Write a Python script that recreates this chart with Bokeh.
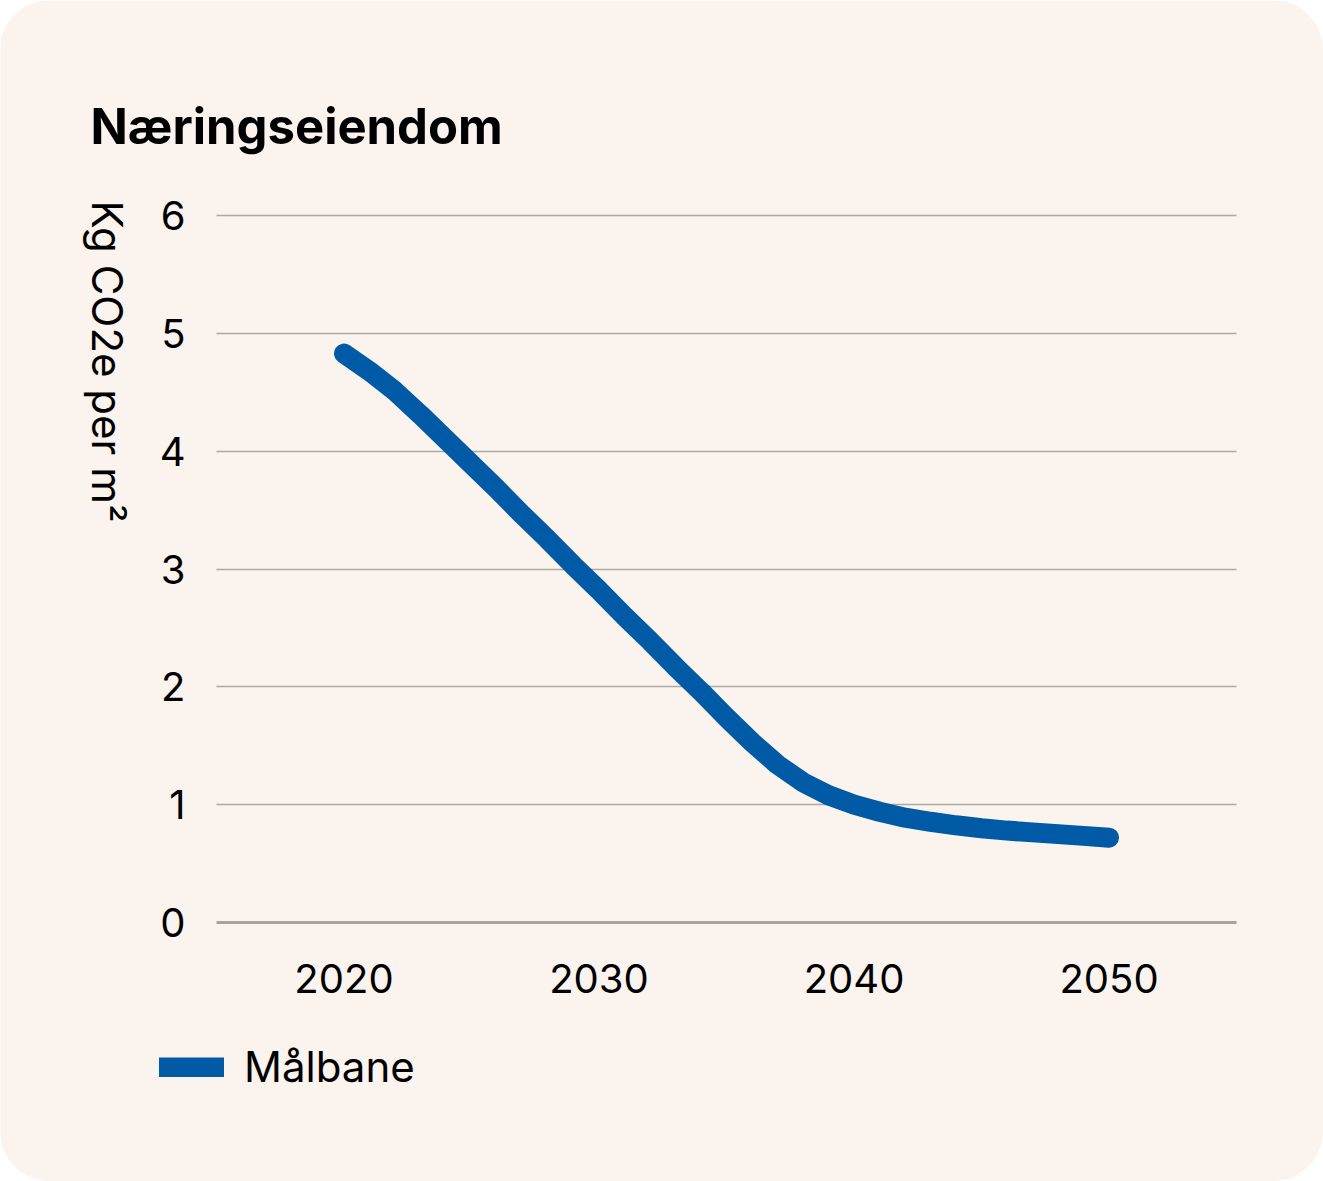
import math
from bokeh.plotting import figure
from bokeh.models import Range1d, Label, Legend, LegendItem
from bokeh.embed import file_html
from bokeh.resources import INLINE

# ---- data ----
years = list(range(2020, 2051))
malbane = [4.83, 4.68, 4.51, 4.31, 4.10, 3.89, 3.68, 3.46, 3.25, 3.03,
           2.82, 2.60, 2.39, 2.17, 1.96, 1.74, 1.53, 1.34, 1.19, 1.08,
           1.00, 0.94, 0.89, 0.855, 0.825, 0.80, 0.78, 0.765, 0.75, 0.735, 0.72]
x_ticks = [2020, 2030, 2040, 2050]
y_ticks = [0, 1, 2, 3, 4, 5, 6]
x_bounds = (2015, 2055)
y_bounds = (0, 6)
title_text = "Næringseiendom"
y_label_text = "Kg CO2e per m²"
series_name = "Målbane"

BG = "#FAF3EE"
BLUE = "#005AA6"
GRID = "#ADA9A5"
FONT = "Inter"
W, H = 1323, 1181

# plot frame covers the whole canvas; axes sit at fixed data locations inside it
p = figure(width=W, height=H, output_backend="svg", toolbar_location=None,
           x_range=Range1d(2006.53, 2058.41), y_range=Range1d(-2.199, 7.827),
           min_border=0)
p.min_border_left = p.min_border_right = p.min_border_top = p.min_border_bottom = 0
p.background_fill_color = BG
p.border_fill_color = BG
p.outline_line_color = None
p.title.visible = False
p.styles = {"border-radius": "50px", "overflow": "hidden"}

r = p.line(years, malbane, line_color=BLUE, line_width=20, line_cap="round", line_join="round")

# x axis at y = 0
xa = p.xaxis[0]
xa.fixed_location = 0
xa.bounds = x_bounds
xa.ticker = x_ticks
xa.axis_line_color = "#A6A3A0"
xa.axis_line_width = 3
xa.major_tick_line_color = None
xa.minor_tick_line_color = None
xa.major_tick_out = 0
xa.major_tick_in = 0
xa.major_label_standoff = 42
xa.major_label_text_font = FONT
xa.major_label_text_font_size = "40px"
xa.major_label_text_color = "#000000"

# y axis at x = 2015
ya = p.yaxis[0]
ya.fixed_location = x_bounds[0]
ya.bounds = y_bounds
ya.ticker = y_ticks
ya.axis_line_color = None
ya.major_tick_line_color = None
ya.minor_tick_line_color = None
ya.major_tick_out = 0
ya.major_tick_in = 0
ya.major_label_standoff = 31
ya.major_label_text_font = FONT
ya.major_label_text_font_size = "40px"
ya.major_label_text_color = "#000000"

p.xgrid.grid_line_color = None
yg = p.ygrid[0]
yg.ticker = y_ticks[1:]
if "cross_bounds" in yg.properties():
    yg.cross_bounds = x_bounds
    yg.grid_line_color = GRID
    yg.grid_line_width = 1.6
else:
    # fall back: draw the horizontal rules as inward major ticks of the y axis
    yg.grid_line_color = None
    ya.major_tick_line_color = GRID
    ya.major_tick_line_width = 1.6
    ya.major_tick_in = int(round((x_bounds[1] - x_bounds[0]) * W / (2058.41 - 2006.53)))

# texts (screen units relative to the frame = canvas, y measured from bottom)
p.add_layout(Label(x=90, y=H - 126, x_units="screen", y_units="screen", text=title_text,
                   text_font=FONT, text_font_style="bold", text_font_size="49px",
                   text_color="#000000", text_align="left", text_baseline="alphabetic"))
p.add_layout(Label(x=107, y=H - 200, x_units="screen", y_units="screen", text=y_label_text,
                   angle=-math.pi / 2, text_font=FONT, text_font_size="42px",
                   text_color="#000000", text_align="left", text_baseline="alphabetic"))

legend = Legend(items=[LegendItem(label=series_name, renderers=[r])],
                location=(159, 89), orientation="horizontal",
                glyph_width=65, glyph_height=20, label_standoff=20,
                padding=0, margin=0, spacing=0,
                border_line_color=None, background_fill_alpha=0,
                label_text_font=FONT, label_text_font_size="42px",
                label_text_color="#000000", label_height=20)
p.add_layout(legend, "center")

open("out.html", "w").write(file_html(p, INLINE))
